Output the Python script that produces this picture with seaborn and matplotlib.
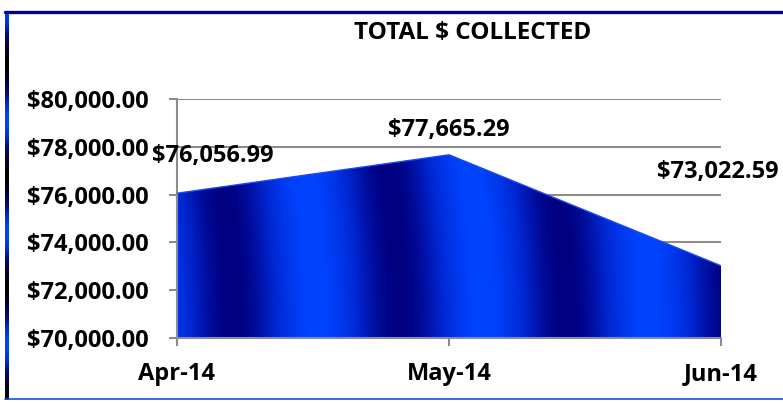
import numpy as np
import pandas as pd
import matplotlib
matplotlib.use("Agg")
import matplotlib.pyplot as plt
import seaborn as sns
from matplotlib.colors import LinearSegmentedColormap
from matplotlib.ticker import FuncFormatter
from matplotlib.lines import Line2D

months = ["Apr-14", "May-14", "Jun-14"]
collected = [76056.99, 77665.29, 73022.59]
y_ticks = [70000, 72000, 74000, 76000, 78000, 80000]

W, H = 783, 403
GRID = "#8C8C8C"

sns.set_theme(style="white")
plt.rcParams["font.family"] = ["Open Sans", "DejaVu Sans"]

fig = plt.figure(figsize=(W / 100, H / 100), dpi=100)
ax = fig.add_axes([177 / W, 65 / H, 544 / W, 239 / H])

df = pd.DataFrame({"pos": range(len(months)), "month": months, "total": collected})

# area outline + fill used as clip path for the striped gradient
sns.lineplot(data=df, x="pos", y="total", color="#1a4be8", lw=1, ax=ax, zorder=3)
poly = ax.fill_between(df["pos"], df["total"], y_ticks[0], facecolor="none", edgecolor="none")

stripes = LinearSegmentedColormap.from_list("stripes", ["#0044ff", "#0026d0", "#000080"])
xs = np.linspace(0, len(months) - 1, 800)
ys = np.linspace(0, 1, 60)
XX, YY = np.meshgrid(xs, ys)
px = XX * 272 + 177 - 233 + 25 * YY ** 2  # slight bend in the stripes
val = 0.5 + 0.5 * np.cos(2 * np.pi * px / 167)
img = ax.imshow(val, extent=[0, len(months) - 1, y_ticks[0], y_ticks[-1]], aspect="auto",
                cmap=stripes, origin="lower", interpolation="bilinear", zorder=2)
img.set_clip_path(poly.get_paths()[0], transform=ax.transData)

ax.set_xlim(0, len(months) - 1)
ax.set_ylim(y_ticks[0], y_ticks[-1])
ax.set_yticks(y_ticks)
ax.set_xticks(df["pos"])
ax.set_xticklabels(months)
ax.yaxis.set_major_formatter(FuncFormatter(lambda v, _: f"${v:,.2f}"))
ax.set_xlabel("")
ax.set_ylabel("")

ax.yaxis.grid(True, color=GRID, lw=1.5)
ax.xaxis.grid(False)
ax.set_axisbelow(True)
for side in ["top", "right"]:
    ax.spines[side].set_visible(False)
for side in ["left", "bottom"]:
    ax.spines[side].set_color(GRID)
    ax.spines[side].set_linewidth(1.5)

ax.tick_params(axis="both", direction="out", length=5.5, width=1.5, color=GRID,
               labelsize=17, labelcolor="black", bottom=True, left=True)
ax.tick_params(axis="y", pad=15)
ax.tick_params(axis="x", pad=12)
for lab in ax.get_xticklabels() + ax.get_yticklabels():
    lab.set_fontweight("bold")

offsets = [(36, 37), (0, 25), (-3, 94)]
for i, v in enumerate(collected):
    ax.annotate(f"${v:,.2f}", (i, v), xytext=offsets[i], textcoords="offset pixels",
                ha="center", va="center", fontsize=17, fontweight="bold",
                color="black", annotation_clip=False, zorder=5)

fig.text(473 / W, 1 - 33 / H, "TOTAL $ COLLECTED", ha="center", va="center",
         fontsize=17.5, fontweight="bold", color="black")

# frame: navy top bar, striped left bar, thin blue bottom line
fig.add_artist(Line2D([5 / W, 1], [1 - 11.5 / H] * 2, color="#000090", lw=2.4))
fig.add_artist(Line2D([5 / W, 1], [1 - 399 / H] * 2, color="#1a4be8", lw=1.2))
bar = fig.add_axes([5 / W, 3 / H, 4 / W, 388 / H])
bar.axis("off")
yy = np.arange(388)[::-1]
edge = 0.5 + 0.5 * np.cos(2 * np.pi * (yy - 55) / 112)
edge_cmap = LinearSegmentedColormap.from_list("edge", ["#000000", "#000a6e", "#0044ff"])
bar.imshow(edge[:, None], aspect="auto", cmap=edge_cmap, interpolation="bilinear")

fig.savefig("out.png", dpi=100)
